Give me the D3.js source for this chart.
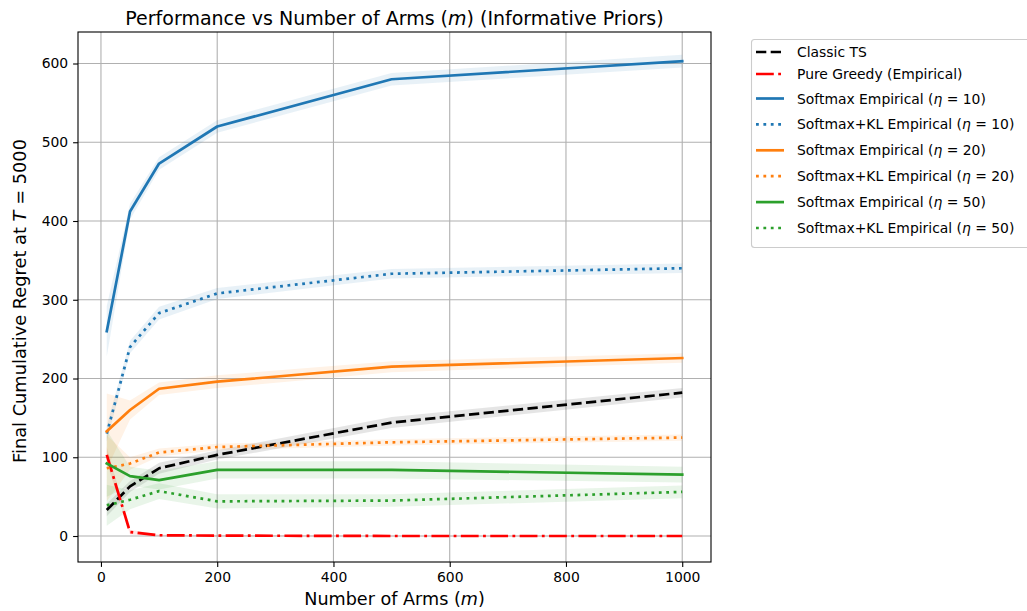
<!DOCTYPE html>
<html>
<head>
<meta charset="utf-8">
<script src="https://cdn.jsdelivr.net/npm/d3@7"></script>
<style>
  html, body { margin: 0; padding: 0; background: #fff; }
  text { font-family: "DejaVu Sans", sans-serif; fill: #000; }
</style>
</head>
<body>
<svg id="chart" width="1027" height="611"></svg>
<script>
// Number of arms evaluated
const arms = [10, 50, 100, 200, 500, 1000];

// Mean final cumulative regret per strategy
const classicTS      = [33, 63, 86, 103, 144, 182];
const pureGreedy     = [103, 5, 1, 0.5, 0, 0];
const softmax10      = [260, 412, 473, 520, 580, 603];
const softmaxKL10    = [130, 240, 283, 308, 333, 340];
const softmax20      = [133, 160, 187, 196, 215, 226];
const softmaxKL20    = [86, 92, 106, 113, 119, 125];
const softmax50      = [92, 76, 71, 84, 84, 78];
const softmaxKL50    = [39, 46, 57, 44, 45, 56];

// Half-width of the shaded spread around each mean
const classicTSErr   = [8, 7, 7, 6, 7, 6];
const pureGreedyErr  = [10, 3, 1, 1, 0.5, 0.5];
const softmax10Err   = [32, 10, 8, 8, 8, 8];
const softmaxKL10Err = [10, 8, 8, 7, 6, 6];
const softmax20Err   = [48, 12, 8, 8, 7, 6];
const softmaxKL20Err = [42, 8, 5, 4, 4, 4];
const softmax50Err   = [42, 12, 12, 11, 11, 10];
const softmaxKL50Err = [26, 12, 10, 9, 8, 8];

const xTicks = [0, 200, 400, 600, 800, 1000];
const yTicks = [0, 100, 200, 300, 400, 500, 600];

const series = [
  { name: "Classic TS", eta: null, mean: classicTS, err: classicTSErr, color: "#000000", style: "dashed" },
  { name: "Pure Greedy (Empirical)", eta: null, mean: pureGreedy, err: pureGreedyErr, color: "#ff0000", style: "dashdot" },
  { name: "Softmax Empirical", eta: "10", mean: softmax10, err: softmax10Err, color: "#1f77b4", style: "solid" },
  { name: "Softmax+KL Empirical", eta: "10", mean: softmaxKL10, err: softmaxKL10Err, color: "#1f77b4", style: "dotted" },
  { name: "Softmax Empirical", eta: "20", mean: softmax20, err: softmax20Err, color: "#ff7f0e", style: "solid" },
  { name: "Softmax+KL Empirical", eta: "20", mean: softmaxKL20, err: softmaxKL20Err, color: "#ff7f0e", style: "dotted" },
  { name: "Softmax Empirical", eta: "50", mean: softmax50, err: softmax50Err, color: "#2ca02c", style: "solid" },
  { name: "Softmax+KL Empirical", eta: "50", mean: softmaxKL50, err: softmaxKL50Err, color: "#2ca02c", style: "dotted" }
];

const LW = 2.7;
const dashFor = {
  solid: null,
  dashed: [10.3, 4.4],
  dotted: [2.8, 4.6],
  dashdot: [17.8, 4.4, 2.8, 4.4]
};

const svg = d3.select("#chart");
const plot = { left: 78, right: 711, top: 32, bottom: 562 };

const x = d3.scaleLinear().domain([-39.5, 1049.5]).range([plot.left, plot.right]);
const y = d3.scaleLinear().domain([-33, 640]).range([plot.bottom, plot.top]);

// grid
const grid = svg.append("g");
grid.selectAll("line.gx").data(xTicks).join("line")
  .attr("x1", d => x(d)).attr("x2", d => x(d))
  .attr("y1", plot.top).attr("y2", plot.bottom)
  .attr("stroke", "#b0b0b0").attr("stroke-width", 1.1);
grid.selectAll("line.gy").data(yTicks).join("line")
  .attr("y1", d => y(d)).attr("y2", d => y(d))
  .attr("x1", plot.left).attr("x2", plot.right)
  .attr("stroke", "#b0b0b0").attr("stroke-width", 1.1);

svg.append("clipPath").attr("id", "plotclip").append("rect")
  .attr("x", plot.left).attr("y", plot.top)
  .attr("width", plot.right - plot.left).attr("height", plot.bottom - plot.top);

const marks = svg.append("g").attr("clip-path", "url(#plotclip)");

const area = d3.area()
  .x((d, i) => x(arms[i]))
  .y0(d => y(d[0] - d[1]))
  .y1(d => y(d[0] + d[1]));
const line = d3.line().x((d, i) => x(arms[i])).y(d => y(d));

series.forEach(s => {
  marks.append("path")
    .datum(s.mean.map((m, i) => [m, s.err[i]]))
    .attr("d", area)
    .attr("fill", s.color).attr("fill-opacity", 0.1).attr("stroke", "none");
});
series.forEach(s => {
  const p = marks.append("path")
    .datum(s.mean)
    .attr("d", line)
    .attr("fill", "none")
    .attr("stroke", s.color)
    .attr("stroke-width", LW)
    .attr("stroke-linejoin", "round")
    .attr("stroke-linecap", s.style === "solid" ? "square" : "butt");
  if (dashFor[s.style]) p.attr("stroke-dasharray", dashFor[s.style].join(","));
});

// axes
const xAxis = d3.axisBottom(x).tickValues(xTicks).tickSize(4.9).tickPadding(4.9).tickFormat(d3.format("d"));
const yAxis = d3.axisLeft(y).tickValues(yTicks).tickSize(4.9).tickPadding(4.9).tickFormat(d3.format("d"));
const gx = svg.append("g").attr("transform", `translate(0,${plot.bottom})`).call(xAxis);
const gy = svg.append("g").attr("transform", `translate(${plot.left},0)`).call(yAxis);
[gx, gy].forEach(g => {
  g.select(".domain").remove();
  g.selectAll(".tick line").attr("stroke", "#000").attr("stroke-width", 1.1);
  g.selectAll(".tick text").attr("font-size", 13.9).attr("font-family", "DejaVu Sans").attr("fill", "#000");
});

// frame
svg.append("rect")
  .attr("x", plot.left).attr("y", plot.top)
  .attr("width", plot.right - plot.left).attr("height", plot.bottom - plot.top)
  .attr("fill", "none").attr("stroke", "#000").attr("stroke-width", 1.1);

const cx = (plot.left + plot.right) / 2;

// title
const title = svg.append("text").attr("x", cx).attr("y", 25)
  .attr("text-anchor", "middle").attr("font-size", 19);
title.append("tspan").text("Performance vs Number of Arms (");
title.append("tspan").attr("font-style", "italic").text("m");
title.append("tspan").text(") (Informative Priors)");

// x label
const xl = svg.append("text").attr("x", cx).attr("y", 605)
  .attr("text-anchor", "middle").attr("font-size", 17.6);
xl.append("tspan").text("Number of Arms (");
xl.append("tspan").attr("font-style", "italic").text("m");
xl.append("tspan").text(")");

// y label
const yl = svg.append("text")
  .attr("transform", `translate(25.5,${(plot.top + plot.bottom) / 2 + 4}) rotate(-90)`)
  .attr("text-anchor", "middle").attr("font-size", 17.8);
yl.append("tspan").text("Final Cumulative Regret at ");
yl.append("tspan").attr("font-style", "italic").text("T");
yl.append("tspan").text(" = 5000");

// legend
const legend = svg.append("g");
legend.append("rect")
  .attr("x", 751.5).attr("y", 39.5).attr("width", 300).attr("height", 208)
  .attr("rx", 3).attr("fill", "#fff").attr("fill-opacity", 0.8)
  .attr("stroke", "#cccccc").attr("stroke-width", 1.1);

let rowY = 52;
series.forEach((s, i) => {
  if (i > 0) rowY += (s.eta || series[i - 1].eta) ? (series[i - 1].eta ? 25.9 : 24.5) : 22;
  const g = legend.append("g").attr("transform", `translate(0,${rowY})`);
  const l = g.append("line").attr("x1", 756).attr("x2", 784).attr("y1", 0).attr("y2", 0)
    .attr("stroke", s.color).attr("stroke-width", LW)
    .attr("stroke-linecap", "butt");
  if (dashFor[s.style]) l.attr("stroke-dasharray", dashFor[s.style].join(","));
  const t = g.append("text").attr("x", 797).attr("y", 5).attr("font-size", 13.9);
  t.append("tspan").text(s.name);
  if (s.eta) {
    t.append("tspan").text(" (");
    t.append("tspan").attr("font-style", "italic").text("η");
    t.append("tspan").text(" = " + s.eta + ")");
  }
});
</script>
</body>
</html>
